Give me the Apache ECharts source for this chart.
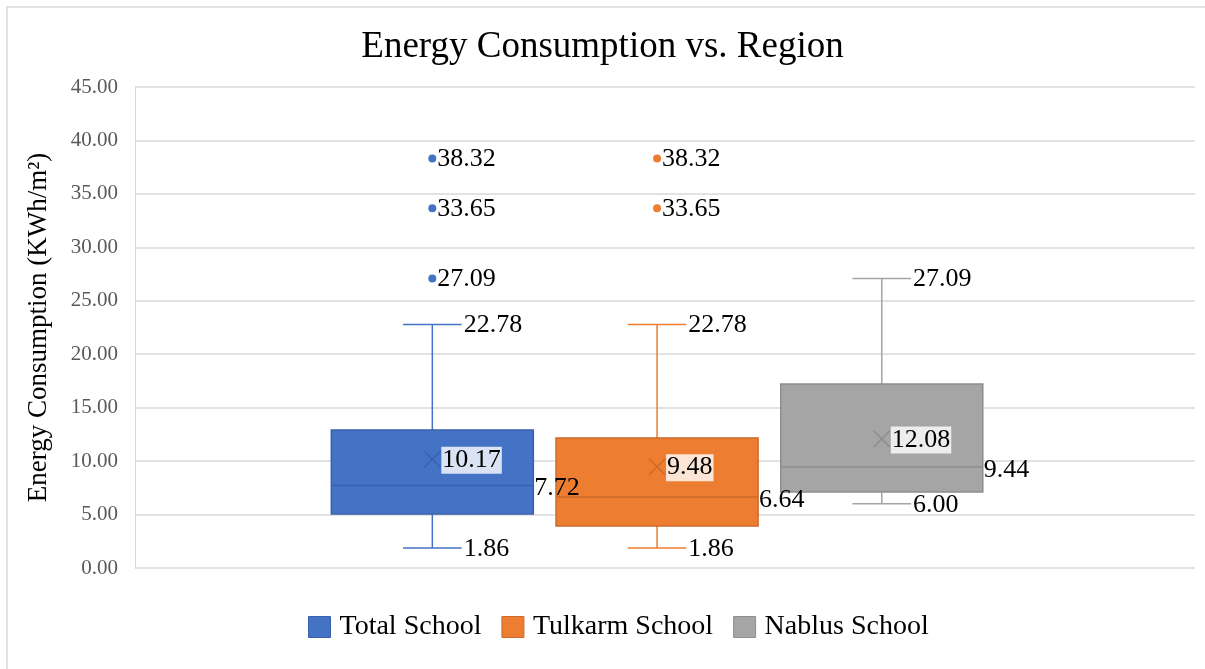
<!DOCTYPE html>
<html>
<head>
<meta charset="utf-8">
<script src="https://cdn.jsdelivr.net/npm/echarts@6/dist/echarts.min.js"></script>
<style>
  html, body { margin: 0; padding: 0; background: #fff; }
  #chart { width: 1205px; height: 669px; }
</style>
</head>
<body>
<div id="chart"></div>
<script>
// data
const groups = ['Total School', 'Tulkarm School', 'Nablus School']
const whiskerLow = [1.86, 1.86, 6.00]
const q1 = [5.05, 3.93, 7.11]
const median = [7.72, 6.64, 9.44]
const q3 = [12.91, 12.16, 17.21]
const whiskerHigh = [22.78, 22.78, 27.09]
const means = [10.17, 9.48, 12.08]
const outliers = [[27.09, 33.65, 38.32], [33.65, 38.32], []]
const yTicks = { min: 0, max: 45, step: 5 }

const fill = ['#4472C4', '#ED7D31', '#A5A5A5']
const edge = ['#3A62AC', '#CC6A29', '#8E8E8E']
const FONT = "'Liberation Serif', 'Times New Roman', serif"

let myChart = echarts.init(document.getElementById('chart'))

// horizontal place of each group inside the single category band
function groupX (api, idx) {
  const band = api.size([1, 0])[0]
  return api.coord([0, 0])[0] + (idx - 1) * 0.212 * band - 0.0075 * band
}

function label (x, y, v, extra) {
  return {
    type: 'text',
    x: x,
    y: y,
    style: Object.assign({
      text: v.toFixed(2),
      fill: '#000',
      font: '26px ' + FONT,
      align: 'left',
      verticalAlign: 'middle'
    }, extra || {})
  }
}

// part = 'shape' draws the box, 'text' draws its value labels (kept on top)
function renderBox (idx, part) {
  return function (params, api) {
    const band = api.size([1, 0])[0]
    const cx = groupX(api, idx)
    const half = band * 0.0953
    const cap = half * 0.29
    const y = v => api.coord([0, v])[1]
    const lo = y(api.value(1))
    const b1 = y(api.value(2))
    const md = y(api.value(3))
    const b3 = y(api.value(4))
    const hi = y(api.value(5))
    const mn = y(api.value(6))
    if (part === 'text') {
      return {
        type: 'group',
        children: [
          label(cx + cap + 2, hi + 1, api.value(5)),
          label(cx + cap + 2, lo + 1, api.value(1)),
          label(cx + half + 1, md + 3, api.value(3)),
          label(cx + 9, mn + 1, api.value(6), {
            backgroundColor: 'rgba(255,255,255,0.8)',
            padding: [1, 1, 0, 1]
          })
        ]
      }
    }
    const line = (x1, y1, x2, y2, c, w) => ({
      type: 'line',
      shape: { x1: x1, y1: y1, x2: x2, y2: y2 },
      style: { stroke: c, lineWidth: w || 1.5 }
    })
    return {
      type: 'group',
      children: [
        line(cx, hi, cx, b3, fill[idx]),
        line(cx, b1, cx, lo, fill[idx]),
        line(cx - cap, hi, cx + cap, hi, fill[idx]),
        line(cx - cap, lo, cx + cap, lo, fill[idx]),
        {
          type: 'rect',
          shape: { x: cx - half, y: b3, width: half * 2, height: b1 - b3 },
          style: { fill: fill[idx], stroke: edge[idx], lineWidth: 1.5 }
        },
        line(cx - half, md, cx + half, md, edge[idx], 1.5),
        line(cx - 8, mn - 8, cx + 8, mn + 8, edge[idx], 1.5),
        line(cx - 8, mn + 8, cx + 8, mn - 8, edge[idx], 1.5)
      ]
    }
  }
}

function renderOutlier (idx) {
  return function (params, api) {
    const cx = groupX(api, idx)
    const cy = api.coord([0, api.value(1)])[1]
    return {
      type: 'group',
      children: [
        { type: 'circle', shape: { cx: cx, cy: cy, r: 4 }, style: { fill: fill[idx] } },
        label(cx + 5, cy + 1, api.value(1))
      ]
    }
  }
}

const series = []
groups.forEach((name, i) => {
  const row = [[0, whiskerLow[i], q1[i], median[i], q3[i], whiskerHigh[i], means[i]]]
  series.push({
    name: name,
    type: 'custom',
    z: 2,
    itemStyle: { color: fill[i] },
    renderItem: renderBox(i, 'shape'),
    data: row
  })
  series.push({
    name: name,
    type: 'custom',
    z: 5,
    itemStyle: { color: fill[i] },
    renderItem: renderBox(i, 'text'),
    data: row
  })
  series.push({
    name: name,
    type: 'custom',
    z: 4,
    itemStyle: { color: fill[i] },
    renderItem: renderOutlier(i),
    data: outliers[i].map(v => [0, v])
  })
})

myChart.setOption({
  animation: false,
  backgroundColor: '#fff',
  graphic: [{
    type: 'rect',
    shape: { x: 7, y: 7, width: 1220, height: 700 },
    style: { fill: 'none', stroke: '#d9d9d9', lineWidth: 1.5 },
    silent: true
  }],
  title: {
    text: 'Energy Consumption vs. Region',
    left: 'center',
    top: 24,
    textStyle: { fontFamily: FONT, fontWeight: 'normal', fontSize: 37, color: '#000' }
  },
  legend: {
    bottom: 23,
    left: 303,
    itemWidth: 22,
    itemHeight: 21,
    itemGap: 20,
    textStyle: { fontFamily: FONT, fontSize: 28, color: '#000', padding: [0, 0, 0, 4] },
    data: groups.map((g, i) => ({
      name: g,
      icon: 'rect',
      itemStyle: { color: fill[i], borderColor: edge[i], borderWidth: 1 }
    }))
  },
  grid: { left: 135, right: 10, top: 87, bottom: 101 },
  xAxis: {
    type: 'category',
    data: [''],
    axisLine: { show: false },
    axisTick: { show: false },
    axisLabel: { show: false }
  },
  yAxis: {
    type: 'value',
    min: yTicks.min,
    max: yTicks.max,
    interval: yTicks.step,
    name: 'Energy Consumption (KWh/m²)',
    nameLocation: 'middle',
    nameGap: 83,
    nameTextStyle: { fontFamily: FONT, fontSize: 27, color: '#000' },
    axisLine: { show: true, lineStyle: { color: '#d9d9d9' } },
    axisTick: { show: false },
    axisLabel: {
      margin: 17,
      fontFamily: FONT,
      fontSize: 21,
      color: '#595959',
      formatter: v => v.toFixed(2)
    },
    splitLine: { lineStyle: { color: '#d9d9d9', width: 1.5 } }
  },
  series: series
})
myChart.resize()
</script>
</body>
</html>
